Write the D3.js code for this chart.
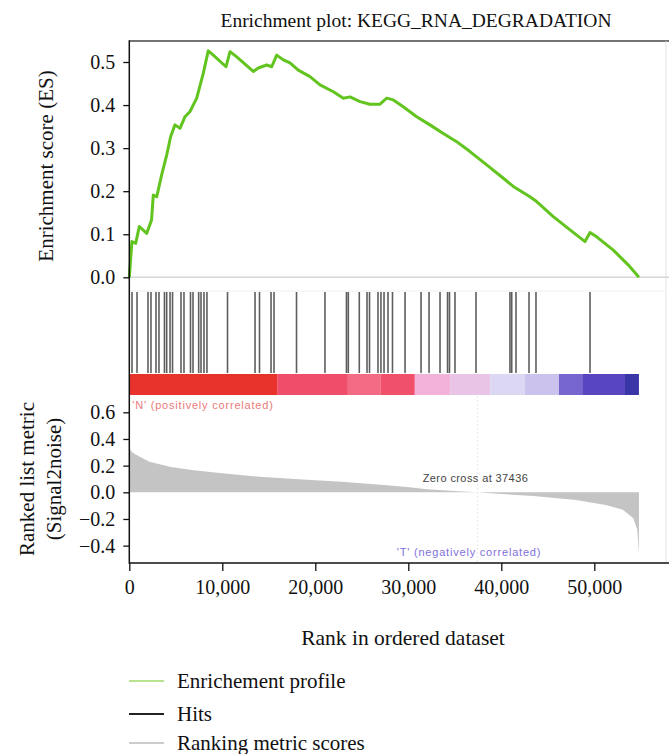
<!DOCTYPE html>
<html>
<head>
<meta charset="utf-8">
<script src="https://cdn.jsdelivr.net/npm/d3@7"></script>
<style>
  html, body { margin: 0; padding: 0; background: #fff; }
  svg { display: block; }
</style>
</head>
<body>
<svg id="chart" width="669" height="754"></svg>
<script>
// ---------------- DATA ----------------
const esRanks  = [0, 280, 690, 1075, 1870, 2390, 2580, 2950, 3480, 4020, 4450, 4910, 5450, 5990, 6530, 7250, 7960, 8490, 9030, 10400, 10830, 11550, 13330, 13870, 14770, 15310, 15850, 16560, 17280, 18170, 19430, 20510, 21940, 23010, 23730, 24810, 25880, 26960, 27680, 28390, 29460, 30900, 32330, 33760, 35200, 36630, 38430, 40220, 41290, 43080, 43800, 45590, 47390, 49000, 49540, 50260, 52040, 53640, 54800];
const esValues = [0, 0.083, 0.079, 0.118, 0.102, 0.133, 0.191, 0.187, 0.238, 0.284, 0.327, 0.354, 0.346, 0.373, 0.385, 0.416, 0.474, 0.526, 0.516, 0.489, 0.524, 0.512, 0.478, 0.486, 0.493, 0.489, 0.516, 0.505, 0.498, 0.481, 0.466, 0.447, 0.431, 0.416, 0.419, 0.408, 0.402, 0.402, 0.416, 0.412, 0.396, 0.373, 0.354, 0.334, 0.315, 0.292, 0.261, 0.230, 0.211, 0.187, 0.176, 0.141, 0.110, 0.083, 0.104, 0.094, 0.063, 0.029, 0];

const hitRanks = [290, 830, 2010, 2330, 2870, 3190, 3780, 4020, 4380, 4650, 5560, 5880, 6580, 6850, 7460, 7710, 8030, 8350, 10560, 13520, 14000, 15240, 15560, 17980, 21040, 23350, 23550, 24730, 25560, 25830, 26740, 27060, 27390, 27820, 28300, 29650, 31370, 32230, 33410, 34220, 34430, 35020, 37280, 40930, 41120, 41580, 42980, 43730, 49540];

const metricRanks  = [0, 300, 780, 2160, 4450, 6740, 9950, 13620, 18200, 22800, 27400, 30140, 31970, 35000, 37436, 38850, 43440, 48030, 51240, 53070, 54200, 54620, 54800];
const metricValues = [0.33, 0.30, 0.28, 0.23, 0.19, 0.168, 0.143, 0.118, 0.098, 0.080, 0.055, 0.038, 0.023, 0.010, 0, -0.008, -0.028, -0.058, -0.095, -0.13, -0.195, -0.28, -0.46];

const barStarts = [0, 15900, 23500, 27000, 30700, 34500, 38800, 42500, 46200, 48700, 53300];
const barEnds   = [15900, 23500, 27000, 30700, 34500, 38800, 42500, 46200, 48700, 53300, 54800];
const barColors = ["#e8322c", "#ef4d69", "#f26a84", "#f0506a", "#f3b2d9", "#e9c4e6", "#dcd8f3", "#cbc3ee", "#7866cf", "#5746c0", "#3a36a8"];

const xTicks = [0, 10000, 20000, 30000, 40000, 50000];
const esTicks = [0, 0.1, 0.2, 0.3, 0.4, 0.5];
const metricTicks = [-0.4, -0.2, 0, 0.2, 0.4, 0.6];

const titleText = "Enrichment plot: KEGG_RNA_DEGRADATION";
const zeroCross = 37436;
const posLabel = "'N' (positively correlated)";
const negLabel = "'T' (negatively correlated)";
const legendLabels = ["Enrichement profile", "Hits", "Ranking metric scores"];
const legendColors = ["#b9e38f", "#222222", "#cccccc"];

// ---------------- LAYOUT ----------------
const svg = d3.select("#chart");
const serif = "'Liberation Serif', 'Times New Roman', serif";
const sans = "'Liberation Sans', Arial, sans-serif";
const L = 129.3, R = 666;
const esTop = 41, esBot = 290;
const hitTop = 292, hitBot = 373;
const barTop = 374, barBot = 395;
const rlTop = 396, rlBot = 563;

const x = d3.scaleLinear().domain([0, 10000]).range([L, L + 93]);
const yES = d3.scaleLinear().domain([0, 0.5]).range([277.3, 62]);
const yRL = d3.scaleLinear().domain([0, 0.6]).range([492.3, 412.3]);

// title
svg.append("text").attr("x", 416).attr("y", 27)
  .attr("text-anchor", "middle").attr("font-family", serif).attr("font-size", 19.5)
  .attr("fill", "#111").text(titleText);

// ES panel
svg.append("line").attr("x1", L).attr("x2", 669).attr("y1", esTop).attr("y2", esTop)
  .attr("stroke", "#444").attr("stroke-width", 1.5);
svg.append("line").attr("x1", R).attr("x2", R).attr("y1", esTop).attr("y2", rlBot)
  .attr("stroke", "#e4e4e4").attr("stroke-width", 1);
svg.append("line").attr("x1", L).attr("x2", 669).attr("y1", yES(0)).attr("y2", yES(0))
  .attr("stroke", "#d6d6d6").attr("stroke-width", 1.5);
svg.append("line").attr("x1", L).attr("x2", R).attr("y1", esBot + 1).attr("y2", esBot + 1)
  .attr("stroke", "#eeeeee").attr("stroke-width", 1);

const esLine = d3.line().x((d, i) => x(esRanks[i])).y(d => yES(d));
svg.append("path").datum(esValues).attr("d", esLine)
  .attr("fill", "none").attr("stroke", "#62c41e").attr("stroke-width", 3)
  .attr("stroke-linejoin", "round");

// hits
svg.append("g").selectAll("line").data(hitRanks).join("line")
  .attr("x1", d => x(d)).attr("x2", d => x(d))
  .attr("y1", hitTop).attr("y2", hitBot)
  .attr("stroke", "#1a1a1a").attr("stroke-opacity", 0.7).attr("stroke-width", 1.6);

// colour bar
svg.append("g").selectAll("rect").data(barColors).join("rect")
  .attr("x", (d, i) => x(barStarts[i])).attr("width", (d, i) => x(barEnds[i]) - x(barStarts[i]))
  .attr("y", barTop).attr("height", barBot - barTop).attr("fill", d => d);

// ranked list
svg.append("line").attr("x1", x(zeroCross)).attr("x2", x(zeroCross)).attr("y1", rlTop).attr("y2", rlBot)
  .attr("stroke", "#eaeaea").attr("stroke-width", 1).attr("stroke-dasharray", "2,2");
const area = d3.area().x((d, i) => x(metricRanks[i])).y0(yRL(0)).y1(d => yRL(d));
svg.append("path").datum(metricValues).attr("d", area).attr("fill", "#c4c4c4");

svg.append("text").attr("x", L + 3).attr("y", 409).attr("font-family", sans).attr("font-size", 11)
  .attr("letter-spacing", 0.8).attr("fill", "#ec7a7a").text(posLabel);
svg.append("text").attr("x", x(zeroCross) - 2).attr("y", 482).attr("text-anchor", "middle")
  .attr("font-family", sans).attr("font-size", 11).attr("letter-spacing", 0.4)
  .attr("fill", "#444").text("Zero cross at " + zeroCross);
svg.append("text").attr("x", 469).attr("y", 556).attr("text-anchor", "middle")
  .attr("font-family", sans).attr("font-size", 11).attr("letter-spacing", 0.8)
  .attr("fill", "#7f70dc").text(negLabel);

// axes
const yAxisES = d3.axisLeft(yES).tickValues(esTicks).tickFormat(d3.format(".1f")).tickSize(6).tickPadding(8);
const gES = svg.append("g").attr("transform", `translate(${L},0)`).call(yAxisES);
const yAxisRL = d3.axisLeft(yRL).tickValues(metricTicks).tickFormat(d3.format(".1f")).tickSize(6).tickPadding(8);
const gRL = svg.append("g").attr("transform", `translate(${L},0)`).call(yAxisRL);
const xAxis = d3.axisBottom(x).tickValues(xTicks).tickFormat(d3.format(",")).tickSize(8).tickPadding(9);
const gX = svg.append("g").attr("transform", `translate(0,${rlBot})`).call(xAxis);
[gES, gRL, gX].forEach(g => {
  g.selectAll("path.domain").remove();
  g.selectAll(".tick line").attr("stroke", "#111").attr("stroke-width", 1.3);
  g.selectAll(".tick text").attr("font-family", serif).attr("font-size", 20).attr("fill", "#111");
});
svg.append("line").attr("x1", L).attr("x2", L).attr("y1", esTop - 0.7).attr("y2", rlBot + 0.7)
  .attr("stroke", "#111").attr("stroke-width", 1.5);
svg.append("line").attr("x1", L).attr("x2", 669).attr("y1", rlBot).attr("y2", rlBot)
  .attr("stroke", "#111").attr("stroke-width", 1.5);

// axis titles
svg.append("text").attr("transform", "translate(53,166) rotate(-90)").attr("text-anchor", "middle")
  .attr("font-family", serif).attr("font-size", 21).attr("fill", "#111").text("Enrichment score (ES)");
svg.append("text").attr("transform", "translate(34,479) rotate(-90)").attr("text-anchor", "middle")
  .attr("font-family", serif).attr("font-size", 21).attr("fill", "#111").text("Ranked list metric");
svg.append("text").attr("transform", "translate(61,479) rotate(-90)").attr("text-anchor", "middle")
  .attr("font-family", serif).attr("font-size", 21).attr("fill", "#111").text("(Signal2noise)");
svg.append("text").attr("x", 403).attr("y", 645).attr("text-anchor", "middle")
  .attr("font-family", serif).attr("font-size", 21.5).attr("fill", "#111").text("Rank in ordered dataset");

// legend
const legY = [681, 714, 743];
const leg = svg.append("g").selectAll("g").data(legendLabels).join("g")
  .attr("transform", (d, i) => `translate(0,${legY[i]})`);
leg.append("line").attr("x1", 129).attr("x2", 164).attr("y1", 0).attr("y2", 0)
  .attr("stroke", (d, i) => legendColors[i]).attr("stroke-width", 2);
leg.append("text").attr("x", 177).attr("y", 7).attr("font-family", serif).attr("font-size", 21)
  .attr("fill", "#111").text(d => d);
</script>
</body>
</html>
